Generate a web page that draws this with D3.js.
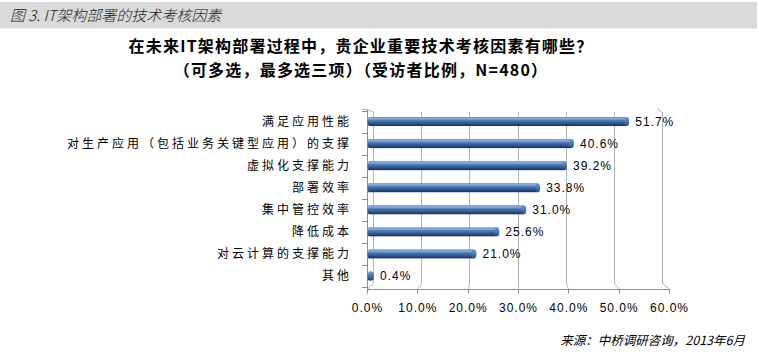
<!DOCTYPE html>
<html><head><meta charset="utf-8">
<script src="https://cdn.jsdelivr.net/npm/d3@7"></script>
<style>body{margin:0;background:#fff}svg{display:block}</style>
</head><body>
<svg id="c" width="759" height="360"></svg>
<script>
const headerTitle = "图 3. IT架构部署的技术考核因素";
const titleLines = ["在未来IT架构部署过程中，贵企业重要技术考核因素有哪些？","（可多选，最多选三项）（受访者比例，N=480）"];
const source = "来源：中桥调研咨询，2013年6月";
const categories = ["满足应用性能","对生产应用（包括业务关键型应用）的支撑","虚拟化支撑能力","部署效率","集中管控效率","降低成本","对云计算的支撑能力","其他"];
const values = [51.7,40.6,39.2,33.8,31.0,25.6,21.0,0.4];
const tickValues = [0,10,20,30,40,50,60];
const tickLabels = ["0.0%","10.0%","20.0%","30.0%","40.0%","50.0%","60.0%"];

const svg = d3.select("#c");
const cjk = "'Noto Sans CJK SC','Noto Sans',sans-serif";
const num = "'Liberation Sans','DejaVu Sans',sans-serif";

// header band
svg.append("rect").attr("x",0).attr("y",2).attr("width",757).attr("height",26.5).attr("fill","#d9d9d9");
svg.append("text").attr("x",10).attr("y",20.5).attr("font-family",cjk).attr("font-size",15)
  .attr("font-style","italic").attr("font-weight",300).attr("fill","#222").text(headerTitle);

// chart title
titleLines.forEach((t,i)=>{
  svg.append("text").attr("x",361).attr("y",52+i*23.5).attr("text-anchor","middle")
    .attr("font-family",cjk).attr("font-size",16).attr("font-weight","bold")
    .attr("letter-spacing",1.2).attr("fill","#000").text(t);
});

const xFront = d3.scaleLinear().domain([0,60]).range([367,669]);
const xBack = d3.scaleLinear().domain([0,60]).range([373,662]);
const xBar = d3.scaleLinear().domain([0,60]).range([369.5,668]);
const y = d3.scaleBand().domain(categories).range([110.5,287]).padding(0);

const backTop = 112, backBot = 284, axisY = 289;

// back wall gridlines + floor connectors
const grid = svg.append("g").attr("fill","none").attr("stroke","#b4b4b4").attr("stroke-width",1);
tickValues.forEach(t=>{
  const xb = Math.round(xBack(t))+0.5, xf = Math.round(xFront(t))+0.5;
  grid.append("path").attr("d",`M${xb},${backTop} L${xb},${backBot-2} Q${xb},${backBot} ${(xb+xf)/2},${(backBot+axisY)/2} L${xf},${axisY}`);
});
// top hooks
grid.append("path").attr("d",`M362,109.5 L367,109.5 L${Math.round(xBack(0))+0.5},${backTop}`);
grid.append("path").attr("d",`M657,108.5 L${Math.round(xBack(60))+0.5},${backTop+1}`);

// left axis
const ax = svg.append("g").attr("stroke","#8c8c8c").attr("fill","none");
ax.append("line").attr("x1",367.5).attr("x2",367.5).attr("y1",110).attr("y2",axisY);
const bounds = categories.map(c=>y(c)).concat([y.range()[1]]);
bounds.forEach(b=>{
  ax.append("line").attr("x1",362).attr("x2",367.5).attr("y1",Math.round(b)+0.5).attr("y2",Math.round(b)+0.5);
});
// bottom axis
ax.append("line").attr("x1",367).attr("x2",669.5).attr("y1",axisY+0.5).attr("y2",axisY+0.5);
tickValues.forEach(t=>{
  const xf = Math.round(xFront(t))+0.5;
  ax.append("line").attr("x1",xf).attr("x2",xf).attr("y1",axisY).attr("y2",axisY+4.5);
});
svg.append("g").selectAll("text").data(tickValues).join("text")
  .attr("x",d=>xFront(d)+0.5).attr("y",axisY+23).attr("text-anchor","middle")
  .attr("font-family",num).attr("font-size",12).attr("letter-spacing",1).attr("fill","#000")
  .text((d,i)=>tickLabels[i]);

// category labels
svg.append("g").selectAll("text").data(categories).join("text")
  .attr("x",352).attr("y",d=>y(d)+y.bandwidth()/2+4.5).attr("text-anchor","end")
  .attr("font-family",cjk).attr("font-size",12).attr("letter-spacing",3).attr("fill","#000")
  .text(d=>d);

// gradient for cylinder bars
const defs = svg.append("defs");
const g = defs.append("linearGradient").attr("id","cyl").attr("x1",0).attr("y1",0).attr("x2",0).attr("y2",1);
[[0,"#5b86c0"],[0.18,"#8fb1de"],[0.4,"#4a78b5"],[0.75,"#2a5189"],[1,"#15305a"]].forEach(([o,c])=>
  g.append("stop").attr("offset",o).attr("stop-color",c));
const gc = defs.append("linearGradient").attr("id","cap").attr("x1",0).attr("y1",0).attr("x2",0).attr("y2",1);
[[0,"#6f97cc"],[0.5,"#4a78b5"],[1,"#25487c"]].forEach(([o,c])=>gc.append("stop").attr("offset",o).attr("stop-color",c));

const bh = 9;
const bars = svg.append("g");
categories.forEach((c,i)=>{
  const cy = y(c)+y.bandwidth()/2;
  const x0 = xBar(0), x1 = xBar(values[i]);
  bars.append("ellipse").attr("cx",x0).attr("cy",cy).attr("rx",2).attr("ry",bh/2).attr("fill","url(#cyl)");
  bars.append("rect").attr("x",x0).attr("y",cy-bh/2).attr("width",Math.max(0,x1-x0)).attr("height",bh).attr("fill","url(#cyl)");
  bars.append("ellipse").attr("cx",x1).attr("cy",cy).attr("rx",2.5).attr("ry",bh/2).attr("fill","url(#cap)");
  svg.append("text").attr("x",x1+8.5).attr("y",cy+4.5).attr("font-family",num).attr("font-size",12)
    .attr("letter-spacing",1).attr("fill","#000").text(values[i].toFixed(1)+"%");
});

// source
svg.append("text").attr("x",745).attr("y",345).attr("text-anchor","end").attr("font-family",cjk)
  .attr("font-size",12.5).attr("font-style","italic").attr("fill","#000").text(source);
</script>
</body></html>
